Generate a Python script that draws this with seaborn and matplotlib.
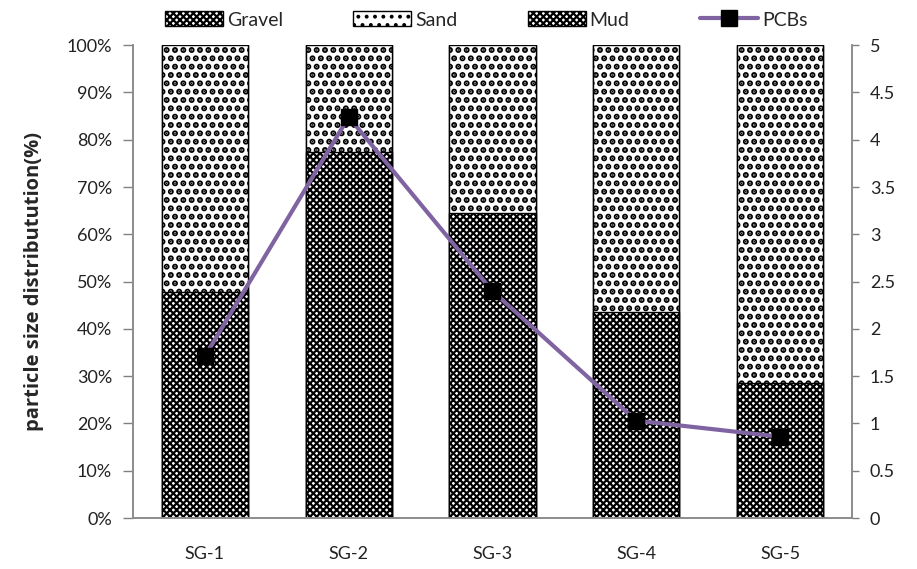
import matplotlib
matplotlib.use("Agg")
import matplotlib.pyplot as plt
import matplotlib.patches as mpatches
import matplotlib.lines as mlines
from matplotlib.ticker import PercentFormatter
import numpy as np
import pandas as pd
import seaborn as sns

# Sediment samples and their composition (%)
samples = ["SG-1", "SG-2", "SG-3", "SG-4", "SG-5"]
gravel = [47.9, 77.5, 64.6, 43.6, 28.6]
sand = [52.1, 22.5, 35.4, 56.4, 71.4]
mud = [0.0, 0.0, 0.0, 0.0, 0.0]
# PCBs concentration (right axis)
pcbs = [1.71, 4.24, 2.40, 1.03, 0.86]

sns.set_style("white")
plt.rcParams["font.family"] = ["Lato", "DejaVu Sans"]

df = pd.DataFrame({"sample": samples, "gravel": gravel, "sand": sand,
                   "mud": mud, "pcbs": pcbs})
df["gs"] = df["gravel"] + df["sand"]
df["total"] = df["gs"] + df["mud"]

fig = plt.figure(figsize=(9.17, 5.69), dpi=100)
ax = fig.add_axes([0.145, 0.0896, 0.784, 0.831])

dark_hatch = "xxxxx"
dot_hatch = ".."
dark_lw = 1.6
dot_lw = 3.0


def stacked(col, hatch, lw):
    with plt.rc_context({"hatch.linewidth": lw}):
        sns.barplot(data=df, x="sample", y=col, ax=ax, color="white", width=0.6,
                    edgecolor="black", linewidth=1.0, hatch=hatch, saturation=1)


# stacked bars: draw cumulative totals back to front
stacked("total", dark_hatch, dark_lw)
stacked("gs", dot_hatch, dot_lw)
stacked("gravel", dark_hatch, dark_lw)

ax.set_ylim(0, 100)
ax.set_xlim(-0.5, 4.5)
ax.set_yticks(np.arange(0, 101, 10))
ax.yaxis.set_major_formatter(PercentFormatter(decimals=0))
ax.set_xlabel("")
ax.set_ylabel("particle size distributution(%)", fontsize=14.5, fontweight="bold",
              family=["Open Sans", "DejaVu Sans"], labelpad=16)
ax.tick_params(axis="y", which="major", direction="out", length=7, width=1,
               color="#808080", labelsize=13, labelcolor="#222222", left=True,
               pad=8)
ax.tick_params(axis="x", length=0, labelsize=13, labelcolor="#222222", pad=20)

for side in ["left", "bottom", "right"]:
    ax.spines[side].set_color("#8c8c8c")
    ax.spines[side].set_linewidth(1.2)
ax.spines["top"].set_visible(False)

ax2 = ax.twinx()
purple = "#8064a2"
sns.pointplot(data=df, x="sample", y="pcbs", ax=ax2, color=purple,
              markers="s", linewidth=3, markersize=0, errorbar=None)
ax2.plot(np.arange(len(samples)), df["pcbs"], linestyle="none", marker="s",
         markersize=11, color="black")
ax2.set_ylim(0, 5)
ax2.set_xlim(-0.5, 4.5)
ax2.set_yticks(np.arange(0, 5.01, 0.5))
ax2.set_yticklabels(["0", "0.5", "1", "1.5", "2", "2.5", "3", "3.5", "4", "4.5", "5"])
ax2.set_ylabel("")
ax2.tick_params(axis="y", direction="out", length=5, width=1, color="#808080",
                labelsize=13, labelcolor="#222222", right=True, pad=8)
for side in ["left", "bottom", "right"]:
    ax2.spines[side].set_color("#8c8c8c")
    ax2.spines[side].set_linewidth(1.2)
ax2.spines["top"].set_visible(False)

with plt.rc_context({"hatch.linewidth": dark_lw}):
    h_gravel = mpatches.Patch(facecolor="white", edgecolor="black", hatch=dark_hatch, label="Gravel")
    h_mud = mpatches.Patch(facecolor="white", edgecolor="black", hatch=dark_hatch, label="Mud")
with plt.rc_context({"hatch.linewidth": dot_lw}):
    h_sand = mpatches.Patch(facecolor="white", edgecolor="black", hatch=dot_hatch, label="Sand")
h_pcbs = mlines.Line2D([], [], color=purple, linewidth=3, marker="s", markersize=11,
                       markerfacecolor="black", markeredgecolor="black", label="PCBs")
with plt.rc_context({"hatch.linewidth": dark_lw}):
    fig.legend(handles=[h_gravel, h_sand, h_mud, h_pcbs], loc="center",
               bbox_to_anchor=(0.53, 0.965), ncol=4, frameon=False, fontsize=14,
               handlelength=3.0, handleheight=0.8, handletextpad=0.2,
               columnspacing=3.6)

fig.savefig("out.png", dpi=100)
